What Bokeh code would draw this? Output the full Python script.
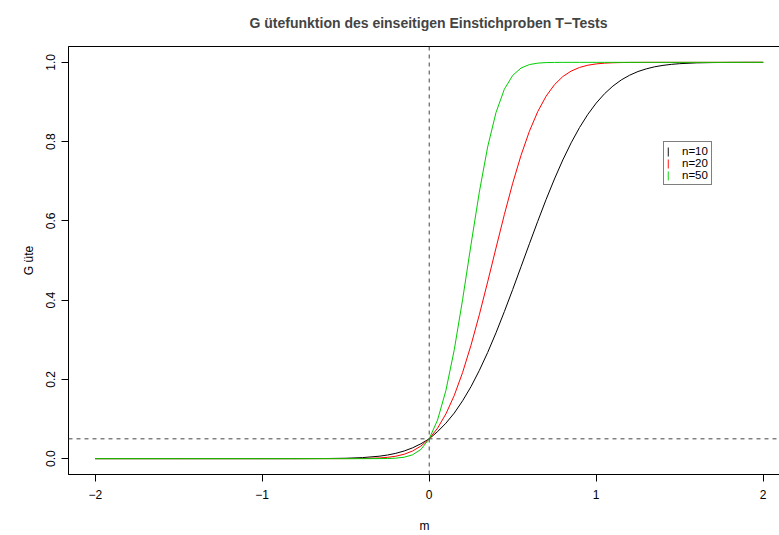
from bokeh.plotting import figure
from bokeh.models import Range1d, FixedTicker, Span, Legend, LegendItem
from bokeh.embed import file_html
from bokeh.resources import INLINE

# ---- data ----
m_values = [-2, -1.5, -1, -0.8, -0.6, -0.5, -0.4, -0.3, -0.25, -0.2, -0.15, -0.1, -0.05, 0,
            0.05, 0.1, 0.15, 0.2, 0.25, 0.3, 0.35, 0.4, 0.45, 0.5, 0.55, 0.6, 0.65, 0.7, 0.75,
            0.8, 0.85, 0.9, 0.95, 1.0, 1.05, 1.1, 1.15, 1.2, 1.25, 1.3, 1.35, 1.4, 1.45, 1.5,
            1.6, 1.7, 1.8, 1.9, 2.0]

power_n10 = [0, 0, 0, 0.00004, 0.0004, 0.001, 0.0026, 0.0061, 0.0091, 0.0134, 0.0193, 0.0272, 0.0375, 0.05,
             0.0681, 0.0895, 0.1150, 0.1460, 0.1815, 0.2224, 0.2679, 0.3176, 0.3710, 0.4269, 0.4844,
             0.5422, 0.5990, 0.6540, 0.7057, 0.7537, 0.7969, 0.8354, 0.8688, 0.8972, 0.9209, 0.9401,
             0.9556, 0.9675, 0.9768, 0.9836, 0.9888, 0.9924, 0.9949, 0.9967,
             0.9987, 0.9995, 0.9998, 0.99995, 1.0]

power_n20 = [0, 0, 0, 0, 0.00001, 0.0001, 0.0004, 0.0017, 0.0033, 0.0061, 0.0111, 0.0192, 0.0317, 0.05,
             0.0769, 0.1129, 0.1595, 0.2174, 0.2858, 0.3629, 0.4461, 0.5316, 0.6159, 0.6950, 0.7656,
             0.8262, 0.8758, 0.9146, 0.9436, 0.9642, 0.9780, 0.9871, 0.9928, 0.9961, 0.9979, 0.9990,
             0.9995, 0.9998, 0.9999, 1.0, 1.0, 1.0, 1.0, 1.0,
             1.0, 1.0, 1.0, 1.0, 1.0]

power_n50 = [0, 0, 0, 0, 0, 0, 0, 0.0001, 0.0004, 0.0012, 0.0036, 0.0096, 0.0232, 0.05,
             0.0975, 0.1721, 0.2747, 0.4013, 0.5392, 0.6723, 0.7867, 0.8734, 0.9322, 0.9671, 0.9857,
             0.9944, 0.9980, 0.9994, 0.9998, 1.0, 1.0, 1.0, 1.0, 1.0, 1.0, 1.0,
             1.0, 1.0, 1.0, 1.0, 1.0, 1.0, 1.0, 1.0,
             1.0, 1.0, 1.0, 1.0, 1.0]

series_labels = ["n=10", "n=20", "n=50"]
series_colors = ["black", "#FF0000", "#00CD00"]

x_ticks = [-2, -1, 0, 1, 2]
x_tick_labels = ["\u22122", "\u22121", "0", "1", "2"]
y_ticks = [0.0, 0.2, 0.4, 0.6, 0.8, 1.0]
y_tick_labels = ["0.0", "0.2", "0.4", "0.6", "0.8", "1.0"]

alpha_level = 0.05
null_mean = 0

title_text = "G \u00fctefunktion des einseitigen Einstichproben T\u2212Tests"
x_label = "m"
y_label = "G \u00fcte"

FONT = "Liberation Sans"

p = figure(width=780, height=535, output_backend="svg", toolbar_location=None,
           x_range=Range1d(-2.16, 2.1036), y_range=Range1d(-0.04, 1.04),
           min_border_left=68, min_border_right=0, min_border_top=46, min_border_bottom=60)

p.background_fill_color = "white"
p.border_fill_color = "white"
p.outline_line_color = "black"
p.outline_line_width = 1
p.xgrid.visible = False
p.ygrid.visible = False

# title
p.title.text = title_text
p.title.text_font = FONT
p.title.text_font_size = "14px"
p.title.text_font_style = "bold"
p.title.align = "left"
p.title.offset = 181
p.title.vertical_align = "top"
p.title.standoff = 28

# axes
for ax in (p.xaxis[0], p.yaxis[0]):
    ax.major_tick_out = 7
    ax.major_tick_in = 0
    ax.minor_tick_line_color = None
    ax.axis_line_color = "black"
    ax.major_tick_line_color = "black"
    ax.major_label_text_font = FONT
    ax.major_label_text_font_size = "12px"
    ax.major_label_text_color = "black"
    ax.axis_label_text_font = FONT
    ax.axis_label_text_font_size = "12px"
    ax.axis_label_text_font_style = "normal"
    ax.axis_label_text_color = "black"

p.xaxis.ticker = FixedTicker(ticks=x_ticks)
p.xaxis.major_label_overrides = dict(zip(x_ticks, x_tick_labels))
p.xaxis.axis_label = x_label
p.xaxis.major_label_standoff = 8
p.xaxis.axis_label_standoff = 17

p.yaxis.ticker = FixedTicker(ticks=y_ticks)
p.yaxis.major_label_overrides = dict(zip(y_ticks, y_tick_labels))
p.yaxis.major_label_orientation = "vertical"
p.yaxis.axis_label = y_label
p.yaxis.major_label_standoff = 6
p.yaxis.axis_label_standoff = 8

# reference lines
p.add_layout(Span(location=null_mean, dimension="height", line_color="#444444",
                  line_width=1, line_dash="4 4"))
p.add_layout(Span(location=alpha_level, dimension="width", line_color="#444444",
                  line_width=1, line_dash="4 4"))

# curves
for ys, col in zip([power_n10, power_n20, power_n50], series_colors):
    p.line(m_values, ys, line_color=col, line_width=1)

# legend (vertical bar keys as in the reference); key renderers carry no drawable point
items = []
nan = float("nan")
for lab, col in zip(series_labels, series_colors):
    r = p.vbar(x=[nan], top=[nan], bottom=[nan], width=0.01,
               fill_color=col, fill_alpha=0.7, line_color=None)
    items.append(LegendItem(label=lab, renderers=[r]))

legend = Legend(items=items, location=(595, 289), orientation="vertical",
                glyph_width=2, glyph_height=11, label_height=10, spacing=0,
                padding=3, margin=0, label_standoff=13,
                label_text_font=FONT, label_text_font_size="11.5px", label_text_color="black",
                label_text_line_height=0.8,
                border_line_color="black", border_line_width=1,
                background_fill_color="white", background_fill_alpha=1.0)
p.add_layout(legend)

open("out.html", "w").write(file_html(p, INLINE))
